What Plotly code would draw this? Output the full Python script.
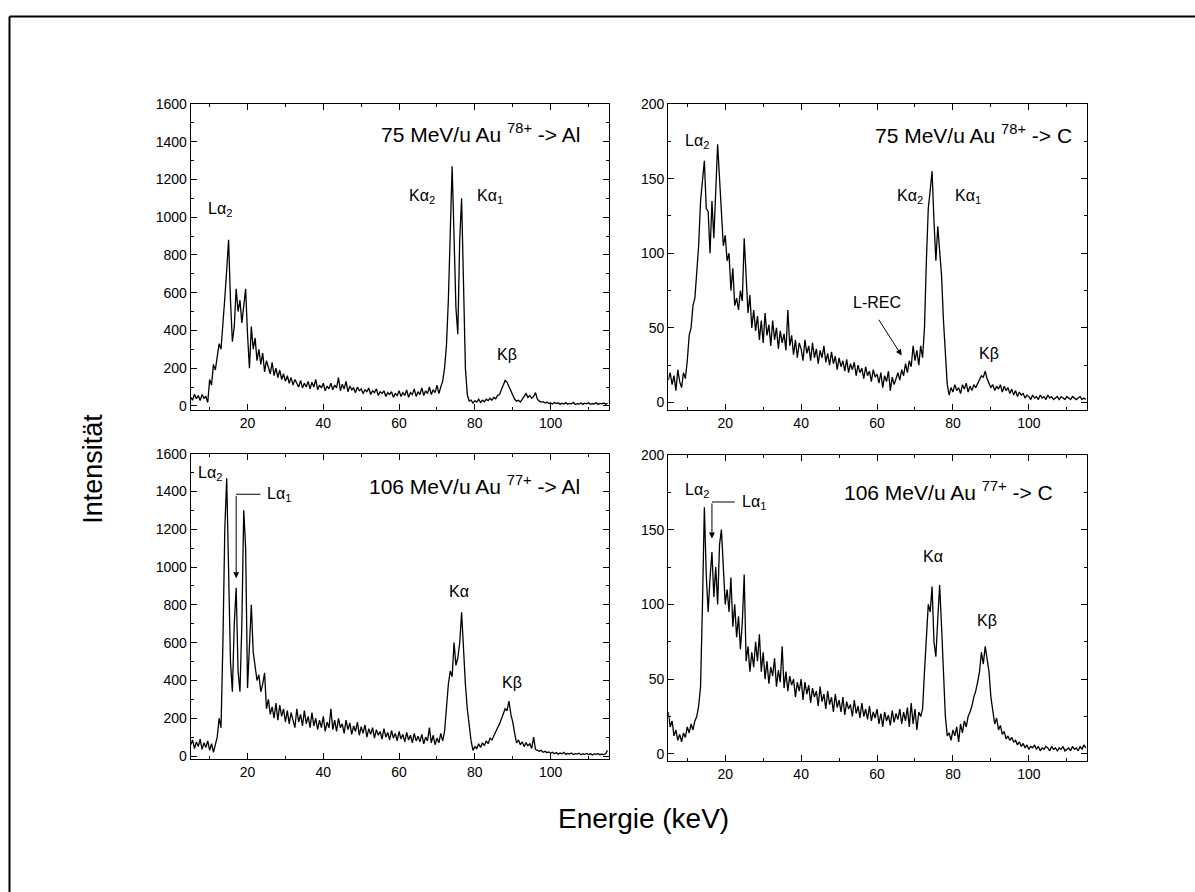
import numpy as np
import plotly.graph_objects as go

W, H = 1195, 892
FONT = "Liberation Sans, Arial, sans-serif"

# Energy channels: 0.5 keV bins starting at 5 keV
E0, DE = 5.0, 0.5

# 75 MeV/u Au78+ -> Al  (counts, one row = 5 keV)
au78_al = [
    45, 30, 62, 38, 55, 28, 60, 40, 50, 18,
    140, 110, 220, 190, 260, 330, 300, 420, 570, 720,
    880, 560, 340, 420, 620, 500, 560, 440, 520, 620,
    380, 200, 420, 300, 360, 240, 300, 220, 280, 180,
    240, 200, 170, 230, 160, 200, 150, 190, 140, 170,
    130, 160, 120, 150, 110, 140, 120, 100, 135, 95,
    120, 100, 130, 90, 125, 100, 140, 85, 110, 95,
    120, 80, 105, 90, 120, 85, 110, 95, 150, 80,
    115, 90, 130, 75, 105, 85, 95, 70, 100, 80,
    90, 65, 85, 75, 95, 60, 80, 70, 90, 55,
    75, 65, 80, 50, 70, 60, 75, 45, 65, 55,
    80, 50, 70, 55, 85, 45, 70, 60, 90, 50,
    75, 60, 95, 55, 80, 65, 100, 60, 85, 70,
    110, 65, 100, 130, 200, 320, 560, 1000, 1270, 900,
    520, 380, 880, 1100, 600, 200, 60, 25, 30, 15,
    28, 20, 35, 18, 30, 22, 35, 28, 40, 30,
    45, 38, 55, 60, 85, 110, 135, 125, 100, 80,
    50, 35, 25, 30, 20, 35, 50, 65, 45, 55,
    40, 50, 70, 35, 25, 20, 22, 15, 20, 12,
    15, 10, 18, 12, 16, 8, 14, 10, 17, 9,
    13, 11, 18, 7, 12, 10, 15, 8, 14, 11,
    16, 9, 12, 10, 17, 8, 13, 11, 15, 9,
    14,
]

# 75 MeV/u Au78+ -> C
au78_c = [
    15, 20, 12, 18, 8, 22, 14, 10, 20, 16,
    28, 45, 50, 65, 70, 90, 105, 135, 150, 162,
    130, 128, 100, 135, 110, 140, 173, 150, 130, 105,
    112, 95, 100, 75, 90, 65, 70, 62, 75, 68,
    110, 85, 60, 72, 50, 62, 48, 58, 42, 55,
    40, 60, 45, 52, 38, 55, 42, 50, 36, 48,
    40, 46, 35, 62, 38, 45, 32, 42, 30, 40,
    36, 28, 42, 33, 38, 28, 40, 30, 36, 26,
    35, 30, 38, 27, 33, 25, 34, 26, 31, 22,
    30, 24, 28, 21, 29, 20, 26, 22, 27, 18,
    25, 20, 23, 16, 24, 18, 21, 14, 22, 17,
    19, 13, 20, 10, 18, 14, 21, 8, 17, 12,
    16, 20, 15, 22, 18, 26, 20, 28, 24, 38,
    28, 35, 25, 38, 30, 50, 95, 130, 142, 155,
    122, 95, 118, 100, 85, 55, 30, 12, 5, 10,
    7, 12, 8, 10, 6, 12, 9, 13, 7, 11,
    8, 12, 10, 13, 16, 18, 17, 21, 16, 13,
    10, 12, 8, 11, 9, 12, 7, 11, 8, 10,
    6, 9, 5, 8, 4, 7, 5, 6, 3, 5,
    4, 2, 5, 3, 4, 2, 5, 3, 4, 2,
    5, 3, 4, 2, 3, 4, 2, 4, 3, 2,
    4, 3, 2, 4, 3, 2, 3, 4, 2, 3,
    2,
]

# 106 MeV/u Au77+ -> Al
au77_al = [
    60, 85, 40, 75, 50, 90, 35, 70, 45, 80,
    30, 65, 20, 60, 100, 200, 150, 600, 1200, 1470,
    1050, 500, 340, 700, 890, 450, 340, 700, 1300, 1100,
    360, 600, 800, 550, 460, 400, 430, 340, 380, 440,
    250, 300, 220, 260, 200, 280, 190, 270, 210, 250,
    180, 240, 170, 230, 190, 150, 250, 180, 220, 160,
    240, 170, 210, 150, 230, 160, 200, 140, 190, 150,
    210, 130, 180, 150, 250, 140, 190, 130, 200, 150,
    170, 120, 190, 140, 175, 115, 160, 130, 180, 110,
    155, 120, 165, 100, 145, 115, 150, 95, 140, 110,
    130, 90, 145, 100, 125, 85, 135, 95, 120, 80,
    130, 90, 115, 75, 125, 85, 110, 70, 120, 80,
    105, 75, 115, 65, 100, 80, 150, 70, 110, 60,
    95, 70, 120, 80, 130, 250, 380, 450, 420, 600,
    480, 520, 600, 760, 550, 380, 250, 150, 80, 30,
    50, 40, 65, 45, 70, 55, 80, 65, 95, 85,
    110, 130, 150, 170, 200, 230, 250, 240, 290, 220,
    180, 120, 70, 85, 60, 75, 50, 70, 55, 65,
    40, 100, 35, 30, 25, 30, 20, 25, 18, 22,
    15, 20, 12, 18, 10, 16, 12, 20, 9, 14,
    11, 16, 8, 13, 10, 15, 7, 12, 9, 14,
    8, 12, 6, 11, 9, 14, 7, 10, 8, 12,
    30,
]

# 106 MeV/u Au77+ -> C
au77_c = [
    28, 18, 22, 12, 16, 9, 13, 8, 14, 11,
    18, 14, 20, 16, 22, 25, 32, 45, 100, 165,
    120, 95, 118, 135, 105, 125, 100, 140, 150, 125,
    100, 110, 95, 118, 85, 100, 78, 92, 70, 88,
    120, 62, 72, 55, 68, 58, 75, 62, 80, 55,
    68, 50, 62, 47, 58, 52, 64, 45, 56, 48,
    72, 44, 55, 42, 52, 46, 50, 38, 48, 42,
    50, 36, 48, 40, 46, 34, 44, 38, 42, 32,
    45, 35, 40, 30, 42, 33, 38, 28, 40, 31,
    36, 28, 38, 26, 35, 30, 33, 25, 36, 27,
    32, 24, 34, 25, 30, 23, 32, 22, 28, 24,
    30, 20, 27, 18, 28, 22, 26, 19, 29, 21,
    27, 23, 30, 20, 28, 22, 31, 18, 34, 20,
    30, 16, 28, 25, 30, 55, 80, 100, 95, 112,
    75, 65, 90, 113, 85, 55, 25, 12, 14, 9,
    16, 12, 18, 8, 20, 14, 22, 18, 25, 28,
    32, 38, 42, 48, 55, 68, 60, 72, 62, 55,
    38, 28, 20, 24, 16, 19, 13, 15, 10, 12,
    9, 11, 8, 9, 6, 8, 5, 7, 4, 6,
    3, 5, 4, 6, 3, 5, 2, 4, 3, 5,
    4, 2, 5, 3, 4, 2, 4, 3, 5, 2,
    3, 4, 2, 5, 3, 4, 2, 5, 3, 6,
    4,
]

titles = [
    "75 MeV/u Au <sup>78+</sup> -&gt; Al",
    "75 MeV/u Au <sup>78+</sup> -&gt; C",
    "106 MeV/u Au <sup>77+</sup> -&gt; Al",
    "106 MeV/u Au <sup>77+</sup> -&gt; C",
]
spectra = [au78_al, au78_c, au77_al, au77_c]

# panel frames in pixels: (left, right, top, bottom)
frames = [
    (190.7, 609.0, 97.3, 407.5),
    (668.3, 1087.3, 97.3, 407.5),
    (190.7, 609.0, 451.7, 761.7),
    (668.3, 1087.3, 453.0, 763.0),
]
yranges = [(-22, 1600), (-5, 200), (-18, 1600), (-4.6, 200)]
ydticks = [(200, 100), (50, 25), (200, 100), (50, 25)]
XRANGE = (5, 115.4)

fig = go.Figure()
tickfont = dict(family=FONT, size=14, color="black")

for i, ys in enumerate(spectra):
    n = i + 1
    sfx = "" if n == 1 else str(n)
    energy = E0 + DE * np.arange(len(ys))
    fig.add_trace(go.Scatter(
        x=energy, y=ys, mode="lines",
        line=dict(color="black", width=1.3),
        xaxis="x" + sfx, yaxis="y" + sfx, showlegend=False,
        hoverinfo="skip",
    ))
    l, r, t, b = frames[i]
    common = dict(
        showline=True, linecolor="black", linewidth=1.2, mirror="allticks",
        ticks="inside", ticklen=6, tickwidth=1, tickcolor="black",
        showgrid=False, zeroline=False, tickfont=tickfont,
    )
    major, minor = ydticks[i]
    fig.layout["xaxis" + sfx] = dict(
        common, domain=[l / W, r / W], anchor="y" + sfx, range=list(XRANGE),
        tickmode="linear", tick0=0, dtick=20,
        minor=dict(ticks="inside", ticklen=3, tickwidth=1, tickcolor="black",
                   dtick=10, tick0=0, showgrid=False),
    )
    fig.layout["yaxis" + sfx] = dict(
        common, domain=[1 - b / H, 1 - t / H], anchor="x" + sfx,
        range=list(yranges[i]), tickmode="linear", tick0=0, dtick=major,
        minor=dict(ticks="inside", ticklen=3, tickwidth=1, tickcolor="black",
                   dtick=minor, tick0=0, showgrid=False),
    )

annotations = []
shapes = []


def label(n, x, y, text, size=16, xanchor="center", yanchor="middle"):
    sfx = "" if n == 1 else str(n)
    annotations.append(dict(
        xref="x" + sfx, yref="y" + sfx, x=x, y=y, text=text, showarrow=False,
        xanchor=xanchor, yanchor=yanchor,
        font=dict(family=FONT, size=size, color="black"),
    ))


def arrow(n, x0, y0, x1, y1):
    sfx = "" if n == 1 else str(n)
    annotations.append(dict(
        xref="x" + sfx, yref="y" + sfx, axref="x" + sfx, ayref="y" + sfx,
        x=x1, y=y1, ax=x0, ay=y0, text="", showarrow=True,
        arrowhead=2, arrowsize=1.2, arrowwidth=1, arrowcolor="black",
    ))


def seg(n, x0, y0, x1, y1):
    sfx = "" if n == 1 else str(n)
    shapes.append(dict(
        type="line", xref="x" + sfx, yref="y" + sfx,
        x0=x0, y0=y0, x1=x1, y1=y1, line=dict(color="black", width=1),
    ))


# panel titles
label(1, 108.2, 1445, titles[0], size=21, xanchor="right")
label(2, 112.0, 180, titles[1], size=21, xanchor="right")
label(3, 108.3, 1436, titles[2], size=21, xanchor="right")
label(4, 106.8, 176, titles[3], size=21, xanchor="right")

# line labels, 75 MeV/u -> Al
label(1, 12.8, 1040, "Lα<sub>2</sub>")
label(1, 66.0, 1112, "Kα<sub>2</sub>")
label(1, 84.0, 1112, "Kα<sub>1</sub>")
label(1, 88.5, 272, "Kβ")

# 75 MeV/u -> C
label(2, 12.6, 175, "Lα<sub>2</sub>")
label(2, 68.6, 138, "Kα<sub>2</sub>")
label(2, 83.9, 138, "Kα<sub>1</sub>")
label(2, 59.9, 67, "L-REC")
label(2, 89.4, 33, "Kβ")
arrow(2, 60.2, 56.5, 66.5, 31.5)

# 106 MeV/u -> Al
label(3, 10.1, 1495, "Lα<sub>2</sub>")
label(3, 24.6, 1382, "Lα<sub>1</sub>", xanchor="left")
seg(3, 17.0, 1385, 23.4, 1385)
arrow(3, 17.0, 1385, 17.0, 940)
label(3, 75.7, 872, "Kα")
label(3, 89.7, 388, "Kβ")

# 106 MeV/u -> C
label(4, 12.5, 176, "Lα<sub>2</sub>")
label(4, 23.9, 168, "Lα<sub>1</sub>", xanchor="left")
seg(4, 16.5, 168.5, 22.5, 168.5)
arrow(4, 16.5, 168.5, 16.5, 144)
label(4, 74.7, 132, "Kα")
label(4, 88.9, 89, "Kβ")

# common axis titles
annotations.append(dict(
    xref="paper", yref="paper", x=93 / W, y=1 - 467 / H, text="Intensität",
    textangle=-90, showarrow=False, xanchor="center", yanchor="middle",
    font=dict(family=FONT, size=27, color="black"),
))
annotations.append(dict(
    xref="paper", yref="paper", x=643 / W, y=1 - 822 / H, text="Energie (keV)",
    showarrow=False, xanchor="center", yanchor="middle",
    font=dict(family=FONT, size=28, color="black"),
))

# outer page frame (left and top edges)
shapes.append(dict(type="line", xref="paper", yref="paper",
                   x0=9.5 / W, y0=1 - 8.5 / H, x1=9.5 / W, y1=-0.01,
                   line=dict(color="black", width=2)))
shapes.append(dict(type="line", xref="paper", yref="paper",
                   x0=9.5 / W, y0=1 - 8.5 / H, x1=1.01, y1=1 - 8.5 / H,
                   line=dict(color="black", width=2)))

fig.update_layout(
    width=W, height=H, margin=dict(l=0, r=0, t=0, b=0),
    paper_bgcolor="white", plot_bgcolor="white",
    annotations=annotations, shapes=shapes, showlegend=False,
    font=dict(family=FONT, color="black"),
)

fig.write_html("out.html")
